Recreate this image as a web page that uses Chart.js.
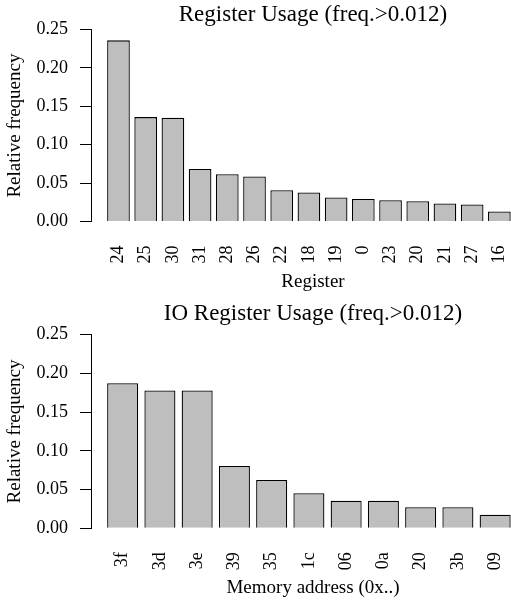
<!DOCTYPE html>
<html>
<head>
<meta charset="utf-8">
<script src="https://cdn.jsdelivr.net/npm/chart.js@4/dist/chart.umd.min.js"></script>
<style>
    html, body { margin: 0; padding: 0; background: #fff; overflow: hidden; }
    .panel { position: absolute; left: 0; width: 511px; overflow: hidden; }
    #p1 { top: 0; height: 300px; }
    #p2 { top: 300px; height: 304px; }
</style>
</head>
<body>
<div class="panel" id="p1"><canvas id="chartReg" width="535" height="300"></canvas></div>
<div class="panel" id="p2"><canvas id="chartIO" width="535" height="304"></canvas></div>
<script>
// data
const registerNames = ['24', '25', '30', '31', '28', '26', '22', '18', '19', '0', '23', '20', '21', '27', '16'];
const registerFreq = [0.236, 0.136, 0.135, 0.0685, 0.0616, 0.0586, 0.0408, 0.0378, 0.0313, 0.0294, 0.0277, 0.0264, 0.0234, 0.0221, 0.013];

const ioNames = ['3f', '3d', '3e', '39', '35', '1c', '06', '0a', '20', '3b', '09'];
const ioFreq = [0.1873, 0.178, 0.178, 0.0805, 0.0624, 0.0452, 0.0357, 0.0357, 0.0271, 0.0271, 0.0176];

const yTickValues = [0, 0.05, 0.10, 0.15, 0.20, 0.25];

const serif = 'Liberation Serif, Times New Roman, serif';

function criarGrafico(ctx, titulo, xTitulo, nomes, valores, xMin, xMax, titlePad, xAxisHeight, xTitlePadBottom) {
    return new Chart(ctx, {
        type: 'bar',
        data: {
            datasets: [{
                data: valores.map((v, i) => ({ x: i + 1, y: v })),
                backgroundColor: '#bebebe',
                borderColor: '#000',
                borderWidth: 1.3,
                categoryPercentage: 1,
                barPercentage: 1 / 1.2
            }]
        },
        options: {
            responsive: false,
            animation: false,
            layout: { padding: 0 },
            plugins: {
                legend: { display: false },
                tooltip: { enabled: false },
                title: {
                    display: true,
                    text: titulo,
                    fullSize: false,
                    color: '#000',
                    font: { family: serif, size: 23, weight: 'normal' },
                    padding: { top: titlePad[0], bottom: titlePad[1] }
                }
            },
            scales: {
                x: {
                    type: 'linear',
                    min: xMin,
                    max: xMax,
                    offset: false,
                    grid: { display: false },
                    border: { display: false },
                    afterBuildTicks: s => { s.ticks = nomes.map((n, i) => ({ value: i + 1 })); },
                    afterFit: s => { s.paddingLeft = 0; s.paddingRight = 0; s.height = xAxisHeight; },
                    ticks: {
                        autoSkip: false,
                        minRotation: 90,
                        maxRotation: 90,
                        padding: 16,
                        color: '#000',
                        font: { family: serif, size: 18 },
                        callback: v => nomes[v - 1]
                    },
                    title: {
                        display: true,
                        text: xTitulo,
                        color: '#000',
                        font: { family: serif, size: 19 },
                        padding: { top: 4, bottom: xTitlePadBottom }
                    }
                },
                y: {
                    min: 0,
                    max: 0.25,
                    afterBuildTicks: s => { s.ticks = yTickValues.map(v => ({ value: v })); },
                    afterFit: s => { s.width = 91; s.paddingTop = 0; s.paddingBottom = 0; },
                    grid: { drawOnChartArea: false, drawTicks: true, tickLength: 11, color: '#000', lineWidth: 1 },
                    border: { display: true, color: '#000', width: 1 },
                    ticks: {
                        padding: 12,
                        color: '#000',
                        font: { family: serif, size: 18 },
                        callback: v => v.toFixed(2)
                    },
                    title: {
                        display: true,
                        text: 'Relative frequency',
                        color: '#000',
                        font: { family: serif, size: 19 },
                        padding: { top: 4, bottom: 4 }
                    }
                }
            }
        }
    });
}

const ctx1 = document.getElementById('chartReg').getContext('2d');
criarGrafico(ctx1, 'Register Usage (freq.>0.012)', 'Register', registerNames, registerFreq, -0.01, 16.31, [1, 1], 78.5, 6.6);

const ctx2 = document.getElementById('chartIO').getContext('2d');
criarGrafico(ctx2, 'IO Register Usage (freq.>0.012)', 'Memory address (0x..)', ioNames, ioFreq, 0.15, 12.07, [0, 7], 75.7, 4.6);
</script>
</body>
</html>
